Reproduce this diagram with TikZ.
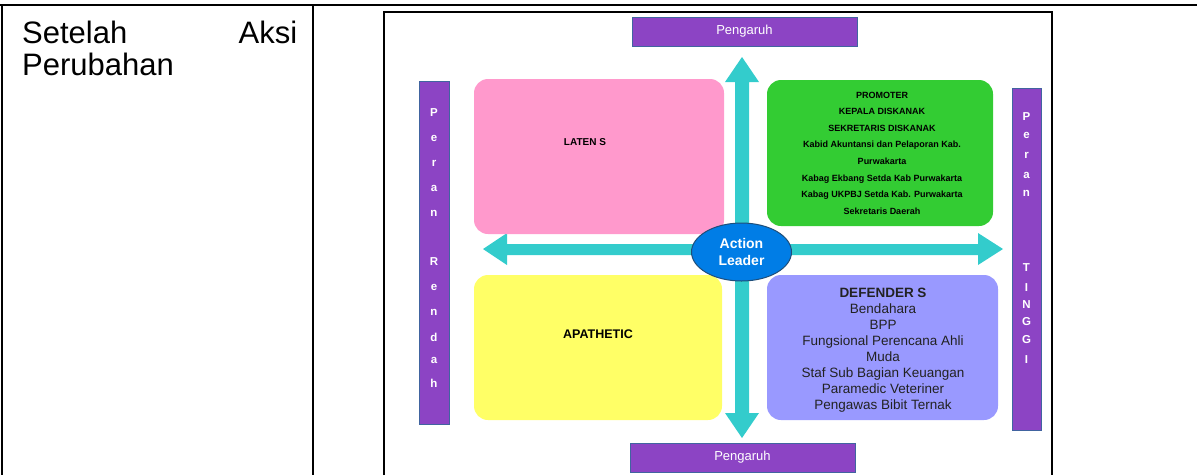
\documentclass[tikz,border=0pt]{standalone}
\usepackage{fontspec}
\setmainfont{Liberation Sans}
\usetikzlibrary{shapes.geometric}
\definecolor{barpurple}{RGB}{140,68,196}
\definecolor{barborder}{RGB}{65,100,160}
\definecolor{pinkc}{RGB}{255,153,204}
\definecolor{yellowc}{RGB}{255,255,102}
\definecolor{greenc}{RGB}{51,204,51}
\definecolor{lavc}{RGB}{153,153,255}
\definecolor{tealc}{RGB}{51,204,204}
\definecolor{ellblue}{RGB}{0,125,230}
\definecolor{ellborder}{RGB}{31,78,121}
\definecolor{deftext}{RGB}{34,34,34}
\begin{document}
\begin{tikzpicture}[x=1pt,y=-1pt,
  tableline/.style={line width=2pt,black},
  purplebox/.style={draw=barborder,fill=barpurple,line width=1pt,inner sep=0pt},
  quad/.style={rounded corners=14pt,draw=none,inner sep=0pt},
  barletter/.style={text=white,font=\fontsize{11.5}{13}\selectfont\bfseries,inner sep=0pt},
  pengaruhtext/.style={text=white,font=\fontsize{13}{15}\selectfont}
]
\useasboundingbox (0,0) rectangle (1197,475);
% table
\draw[tableline] (0,5) -- (1197,5);
\draw[tableline] (2,5) -- (2,475);
\draw[tableline] (313,5) -- (313,475);
\node[anchor=north west,inner sep=0pt,text width=275pt,align=left,
      font=\fontsize{31}{32}\selectfont] (ket) at (22,21) {Setelah\hfill Aksi\\Perubahan};
% picture frame
\draw[tableline] (384,475) -- (384,12) -- (1052,12) -- (1052,475);
% cross arrows
\fill[tealc] (483,249) -- (507,233) -- (507,244) -- (978,244) -- (978,233) -- (1003,249)
  -- (978,265) -- (978,255) -- (507,255) -- (507,265) -- cycle;
\fill[tealc] (742,57) -- (759,82) -- (749,82) -- (749,413) -- (759,413) -- (742,438)
  -- (725,413) -- (735,413) -- (735,82) -- (725,82) -- cycle;
% quadrants
\node[quad,fill=pinkc,minimum width=250pt,minimum height=155pt] (laten) at (599,156.5) {};
\node[font=\fontsize{10}{12}\selectfont\bfseries,inner sep=0pt] (latentext) at (585,142) {LATEN S};
\node[quad,fill=yellowc,minimum width=248pt,minimum height=145pt] (apathetic) at (598,347.5) {};
\node[font=\fontsize{12.5}{14}\selectfont\bfseries,inner sep=0pt] (apathetictext) at (598,334) {APATHETIC};
\node[quad,fill=greenc,minimum width=226pt,minimum height=146pt] (promoter) at (880,153) {};
\node[align=center,inner sep=0pt,font=\fontsize{9}{16.6}\selectfont\bfseries] (promotertext) at (882,153)
  {PROMOTER\\KEPALA DISKANAK\\SEKRETARIS DISKANAK\\Kabid Akuntansi dan Pelaporan Kab.\\Purwakarta\\
   Kabag Ekbang Setda Kab Purwakarta\\Kabag UKPBJ Setda Kab. Purwakarta\\Sekretaris Daerah};
\node[quad,fill=lavc,minimum width=231pt,minimum height=145pt] (defenders) at (882.5,347.5) {};
\node[align=center,inner sep=0pt,text=deftext,font=\fontsize{13.5}{16}\selectfont] (defenderstext) at (883,350)
  {\textbf{DEFENDER S}\\Bendahara\\BPP\\Fungsional Perencana Ahli\\Muda\\Staf Sub Bagian Keuangan\\
   Paramedic Veteriner\\Pengawas Bibit Ternak};
% action leader
\node[ellipse,draw=ellborder,line width=1pt,fill=ellblue,minimum width=100pt,minimum height=58pt,
      inner sep=0pt,align=center,text=white,font=\fontsize{14}{17}\selectfont\bfseries] (leader) at (741.5,252) {Action\\Leader};
% pengaruh boxes
\node[purplebox,minimum width=225pt,minimum height=29pt,pengaruhtext] (ptop) at (744.5,31.5) {Pengaruh};
\node[purplebox,minimum width=225pt,minimum height=29pt,pengaruhtext] (pbot) at (742.5,457.5) {Pengaruh};
% side bars
\node[purplebox,minimum width=30pt,minimum height=343pt] (rendah) at (434,252.5) {};
\node[purplebox,minimum width=29pt,minimum height=342pt] (tinggi) at (1026.5,259) {};
\foreach \ch/\yy [count=\i] in {P/113,e/138,r/163,a/188,n/213,R/262,e/287,n/312,d/337,a/360,h/383}
  \node[barletter] (lb\i) at (434,\yy) {\ch};
\foreach \ch/\yy [count=\i] in {P/117,e/135,r/155,a/175,n/193,T/268,I/288,N/305,G/322,G/340,I/360}
  \node[barletter] (rb\i) at (1026.5,\yy) {\ch};
\end{tikzpicture}
\end{document}
